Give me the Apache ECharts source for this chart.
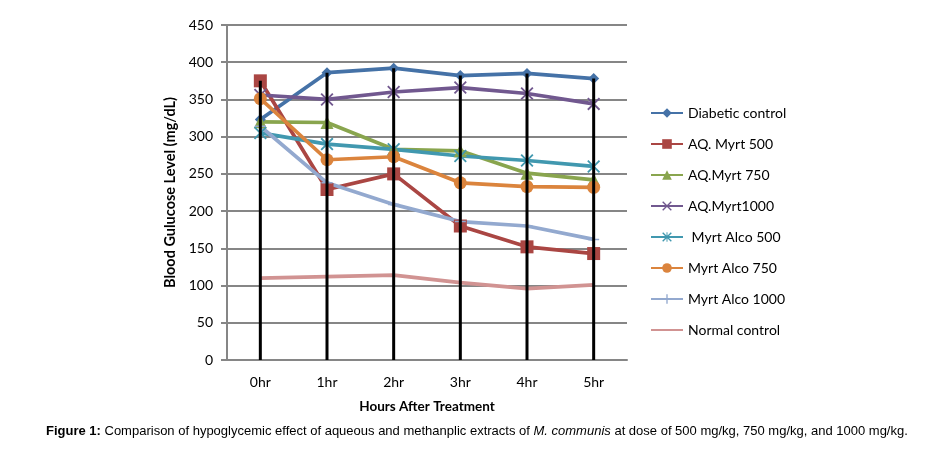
<!DOCTYPE html>
<html>
<head>
<meta charset="utf-8">
<script src="https://cdn.jsdelivr.net/npm/echarts@6/dist/echarts.min.js"></script>
<style>html,body{margin:0;padding:0;background:#fff;}#c{width:925px;height:450px;}</style>
</head>
<body>
<div id="c"></div>
<script>
var categories = ['0hr', '1hr', '2hr', '3hr', '4hr', '5hr'];
var yTicks = [0, 50, 100, 150, 200, 250, 300, 350, 400, 450];
var seriesNames = ['Diabetic control', 'AQ. Myrt 500', 'AQ.Myrt 750', 'AQ.Myrt1000', ' Myrt Alco 500', 'Myrt Alco 750', 'Myrt Alco 1000', 'Normal control'];
var diabeticControl = [323, 386, 392, 382, 385, 378];
var aqMyrt500 = [375, 229, 250, 180, 152, 143];
var aqMyrt750 = [320, 319, 283, 281, 251, 242];
var aqMyrt1000 = [356, 350, 360, 366, 358, 344];
var myrtAlco500 = [305, 290, 283, 274, 268, 260];
var myrtAlco750 = [351, 269, 273, 238, 233, 232];
var myrtAlco1000 = [314, 238, 209, 186, 180, 162];
var normalControl = [110, 112, 114, 104, 96, 101];

var allData = [diabeticControl, aqMyrt500, aqMyrt750, aqMyrt1000, myrtAlco500, myrtAlco750, myrtAlco1000, normalControl];
var dropTop = categories.map(function (c, i) {
  return Math.max.apply(null, allData.map(function (a) { return a[i]; }));
});

var colors = ['#4572A7', '#AA4643', '#89A54E', '#71588F', '#4198AF', '#DB843D', '#93A9CF', '#D19392'];
var xPath = 'path://M0,1L1,0L10,9L9,10Z M9,0L10,1L1,10L0,9Z';
var starPath = 'path://M0,1L1,0L10,9L9,10Z M9,0L10,1L1,10L0,9Z M4.5,0L5.5,0L5.5,10L4.5,10Z';
var plusPath = 'path://M4.3,0L5.7,0L5.7,10L4.3,10Z M0,4.3L10,4.3L10,5.7L0,5.7Z';
var dashPath = 'path://M0,0L0.01,0L0,0.01Z M0,4.3L10,4.3L10,5.7L0,5.7Z M0,10L0.01,10L0,9.99Z';
var symbols = ['diamond', 'rect', 'triangle', xPath, starPath, 'circle', plusPath, dashPath];
var sizes = [11, 13, 13, 13, 13, 13, 11, 0];
var showSym = [true, true, true, true, true, true, true, false];

var series = allData.map(function (d, i) {
  return {
    name: seriesNames[i],
    type: 'line',
    data: d,
    symbol: symbols[i],
    symbolSize: sizes[i],
    showSymbol: showSym[i],
    lineStyle: { color: colors[i], width: 3.7 },
    itemStyle: { color: colors[i] },
    emphasis: { disabled: true },
    z: 2
  };
});
series.push({
  name: 'drop',
  type: 'bar',
  data: dropTop,
  barWidth: 3,
  itemStyle: { color: '#000' },
  silent: true,
  z: 5
});

var chart = echarts.init(document.getElementById('c'));
chart.setOption({
  animation: false,
  backgroundColor: '#fff',
  textStyle: { fontFamily: 'Lato, sans-serif' },
  grid: { left: 227, right: 298, top: 25, bottom: 90 },
  legend: {
    data: seriesNames,
    orient: 'vertical',
    left: 645,
    top: 101,
    itemWidth: 32,
    itemHeight: 12,
    itemGap: 17,
    textStyle: { fontSize: 14, color: '#000', fontFamily: 'Lato, sans-serif' }
  },
  xAxis: {
    type: 'category',
    data: categories,
    boundaryGap: true,
    name: 'Hours After Treatment',
    nameLocation: 'middle',
    nameGap: 40,
    nameTextStyle: { fontWeight: 'bold', fontSize: 13.5, color: '#000' },
    axisLine: { lineStyle: { color: '#868686', width: 2 } },
    axisTick: { show: false },
    axisLabel: { fontSize: 14, color: '#000', margin: 15 }
  },
  yAxis: {
    type: 'value',
    min: yTicks[0],
    max: yTicks[yTicks.length - 1],
    interval: yTicks[1] - yTicks[0],
    name: 'Blood Gulucose Level (mg/dL)',
    nameLocation: 'middle',
    nameGap: 49,
    nameTextStyle: { fontWeight: 'bold', fontSize: 14.5, color: '#000' },
    axisLine: { show: true, lineStyle: { color: '#868686', width: 2 } },
    axisTick: { show: true, length: 6, lineStyle: { color: '#868686', width: 2 } },
    splitLine: { lineStyle: { color: '#868686', width: 2 } },
    axisLabel: { fontSize: 14, color: '#000', margin: 14 }
  },
  graphic: [{
    type: 'text',
    left: 46,
    top: 425,
    style: {
      text: '{b|Figure 1:} Comparison of hypoglycemic effect of aqueous and methanplic extracts of {i|M. communis} at dose of 500 mg/kg, 750 mg/kg, and 1000 mg/kg.',
      font: '13px "Liberation Sans", Arial, sans-serif',
      fill: '#000',
      rich: {
        b: { fontWeight: 'bold', fontSize: 13, fontFamily: '"Liberation Sans", Arial, sans-serif' },
        i: { fontStyle: 'italic', fontSize: 13, fontFamily: '"Liberation Sans", Arial, sans-serif' }
      }
    }
  }],
  series: series
});
</script>
</body>
</html>
